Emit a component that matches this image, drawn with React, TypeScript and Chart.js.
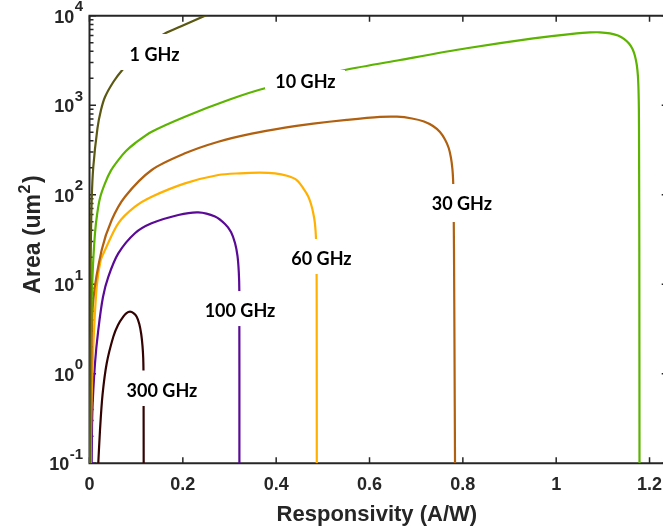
import { useEffect, useRef } from "react";
import { Chart, registerables } from "chart.js";

Chart.register(...registerables);

// ---------- data (Responsivity A/W vs Area um^2) ----------
const seriesNames = ["1 GHz", "10 GHz", "30 GHz", "60 GHz", "100 GHz", "300 GHz"];

const resp1GHz = [0.0005, 0.001, 0.0025, 0.0047, 0.0081, 0.0171, 0.0246, 0.0332, 0.051, 0.069, 0.1153, 0.1618, 0.1939, 0.2475, 0.2689];
const area1GHz = [0.1, 1, 20, 87, 204, 556, 883, 1236, 1816, 2432, 4436, 6353, 7535, 10000, 11287];

const resp10GHz = [0.0011, 0.0017, 0.0028, 0.0047, 0.0075, 0.0118, 0.0161, 0.0225, 0.0332, 0.0461, 0.0617, 0.0782, 0.0975, 0.1333, 0.2046, 0.2974, 0.376, 0.5475, 0.6653, 0.8082, 0.9509, 1.0439, 1.0724, 1.0938, 1.1152, 1.1324, 1.1452, 1.156, 1.1635, 1.1688, 1.1727, 1.1751, 1.1764, 1.1772, 1.1776, 1.1781, 1.1785];
const area10GHz = [0.1, 0.305, 1.85, 6.65, 16.4, 37.3, 59.4, 92, 134, 187, 244, 308, 376, 506, 745, 1143, 1545, 2474, 3200, 4325, 5592, 6359, 6507, 6525, 6359, 6009, 5521, 4892, 4246, 3546, 2814, 2121, 1479, 884, 316, 24.1, 0.1];

const resp30GHz = [0.0017, 0.0041, 0.0081, 0.0261, 0.0476, 0.0761, 0.1333, 0.2046, 0.276, 0.3476, 0.4189, 0.4795, 0.5511, 0.6224, 0.6589, 0.691, 0.7167, 0.736, 0.751, 0.7617, 0.7697, 0.7746, 0.7776, 0.7791, 0.7799, 0.781, 0.7821, 0.7832];
const area30GHz = [0.1, 1.5, 6.65, 24.1, 52.2, 95, 189, 290, 391, 481, 561, 622, 685, 740, 744, 711, 658, 586, 502, 414, 333, 257, 194, 146, 99.3, 24.1, 1.84, 0.1];

const resp60GHz = [0.0026, 0.004, 0.0081, 0.0154, 0.0236, 0.0332, 0.0617, 0.0975, 0.1333, 0.2046, 0.276, 0.3225, 0.3653, 0.3975, 0.4232, 0.444, 0.4581, 0.4682, 0.4746, 0.4795, 0.4832, 0.4853, 0.4864, 0.4868, 0.487];
const area60GHz = [0.1, 0.4, 2.0, 9.4, 18.2, 24.1, 48, 73.5, 95, 134, 166, 173.6, 176.3, 173.2, 162.8, 146, 118, 96.8, 78.8, 62, 47.1, 32.6, 18.7, 6.65, 0.1];

const resp100GHz = [0.0047, 0.006, 0.0118, 0.0188, 0.0289, 0.0403, 0.0617, 0.0974, 0.133, 0.1903, 0.2331, 0.2689, 0.2903, 0.3032, 0.3118, 0.3171, 0.3199, 0.321, 0.3212];
const area100GHz = [0.1, 0.36, 1.31, 3.08, 7.2, 12.1, 22.1, 37.1, 47.9, 59.4, 63.5, 57.1, 47.1, 38.4, 28.9, 20.7, 13.7, 8.6, 0.1];

const resp300GHz = [0.0188, 0.0225, 0.0279, 0.0369, 0.051, 0.0611, 0.0724, 0.0793, 0.0868, 0.0943, 0.1011, 0.1067, 0.1108, 0.1136, 0.1151, 0.1157, 0.1159, 0.1161];
const area300GHz = [0.1, 0.235, 0.58, 1.31, 2.59, 3.51, 4.34, 4.76, 4.94, 4.76, 4.34, 3.6, 2.78, 2.04, 1.5, 1.05, 0.506, 0.1];

const seriesResp = [resp1GHz, resp10GHz, resp30GHz, resp60GHz, resp100GHz, resp300GHz];
const seriesArea = [area1GHz, area10GHz, area30GHz, area60GHz, area100GHz, area300GHz];
const seriesColors = ["#5a5812", "#5cb300", "#b0600f", "#ffb000", "#5a0a96", "#330303"];

// tick labels
const xTickValues = [0, 0.2, 0.4, 0.6, 0.8, 1, 1.2];
const xTickLabels = ["0", "0.2", "0.4", "0.6", "0.8", "1", "1.2"];
const yTickExponents = ["-1", "0", "1", "2", "3", "4"];

// in-plot curve labels (anchor in data coordinates)
const curveLabelResp = [0.1393, 0.4628, 0.798, 0.497, 0.3225, 0.1553];
const curveLabelArea = [3733, 1841, 79.8, 19.5, 5.15, 0.659];

const xAxisTitle = "Responsivity (A/W)";
const yAxisTitleMain = "Area (um";
const yAxisTitleSup = "2";
const yAxisTitleEnd = ")";

// ---------- styles ----------
const AXIS_COLOR = "#262626";
const TICK_FONT = '"Liberation Sans", Arial, Helvetica, sans-serif';
const LABEL_FONT = 'Lato, "Open Sans", sans-serif';
// white background pad around each curve label: [left, right, top, bottom] px from text centre
const labelPads = [
  [33.5, 27.5, 20, 16],
  [40.5, 39.5, 11.5, 7.5],
  [34, 35, 19.5, 18.5],
  [32.5, 32.5, 19.3, 15.7],
  [37, 37, 19, 16],
  [37, 37, 19.5, 16],
];

const CANVAS_W = 680;
const CANVAS_H = 527;

const axesPlugin = {
  id: "matlabAxes",
  beforeDatasetsDraw(chart: any) {
    const { ctx, chartArea: ca } = chart;
    const xs = chart.scales.x;
    const ys = chart.scales.y;
    ctx.save();
    ctx.strokeStyle = AXIS_COLOR;
    ctx.lineWidth = 2;
    ctx.beginPath();
    ctx.moveTo(ca.left, ca.top);
    ctx.lineTo(ca.left, ca.bottom);
    ctx.lineTo(ca.right, ca.bottom);
    ctx.lineTo(ca.right, ca.top);
    ctx.closePath();
    ctx.stroke();

    ctx.lineWidth = 1.5;
    ctx.beginPath();
    for (const v of xTickValues) {
      const px = xs.getPixelForValue(v);
      ctx.moveTo(px, ca.bottom);
      ctx.lineTo(px, ca.bottom - 6);
      ctx.moveTo(px, ca.top);
      ctx.lineTo(px, ca.top + 6);
    }
    for (let e = -1; e <= 4; e++) {
      for (let m = 1; m <= 9; m++) {
        const v = m * Math.pow(10, e);
        if (v > 10000 * 1.0001) break;
        const py = ys.getPixelForValue(v);
        const len = m === 1 ? 6.5 : 4;
        ctx.moveTo(ca.left, py);
        ctx.lineTo(ca.left + len, py);
        ctx.moveTo(ca.right, py);
        ctx.lineTo(ca.right - len, py);
      }
    }
    ctx.stroke();
    ctx.restore();
  },
  afterDraw(chart: any) {
    const { ctx, chartArea: ca } = chart;
    const ys = chart.scales.y;
    ctx.save();
    ctx.fillStyle = AXIS_COLOR;
    ctx.textBaseline = "middle";
    ctx.textAlign = "left";
    const rightEdge = ca.left - 6.5;
    for (const e of yTickExponents) {
      const py = ys.getPixelForValue(Math.pow(10, Number(e)));
      ctx.font = `bold 15px ${TICK_FONT}`;
      const ew = ctx.measureText(e).width;
      ctx.fillText(e, rightEdge - ew, py - 8.5);
      ctx.font = `bold 18px ${TICK_FONT}`;
      const bw = ctx.measureText("10").width;
      ctx.fillText("10", rightEdge - ew - bw - 0.5, py + 2);
    }

    // x-axis title
    ctx.font = `bold 22px ${TICK_FONT}`;
    ctx.textAlign = "center";
    ctx.textBaseline = "alphabetic";
    ctx.fillText(xAxisTitle, (ca.left + ca.right) / 2 - 2, 520.5);

    // y-axis title, rotated, with superscript
    ctx.save();
    ctx.translate(40, (ca.top + ca.bottom) / 2 - 5);
    ctx.rotate(-Math.PI / 2);
    ctx.textAlign = "left";
    ctx.font = `bold 23px ${TICK_FONT}`;
    const w1 = ctx.measureText(yAxisTitleMain).width;
    const w3 = ctx.measureText(yAxisTitleEnd).width;
    ctx.font = `bold 16px ${TICK_FONT}`;
    const w2 = ctx.measureText(yAxisTitleSup).width;
    const total = w1 + w2 + w3 + 2;
    let u = -total / 2;
    ctx.font = `bold 23px ${TICK_FONT}`;
    ctx.fillText(yAxisTitleMain, u, 0);
    u += w1 + 0.5;
    ctx.font = `bold 16px ${TICK_FONT}`;
    ctx.fillText(yAxisTitleSup, u, -10);
    u += w2 + 1.5;
    ctx.font = `bold 23px ${TICK_FONT}`;
    ctx.fillText(yAxisTitleEnd, u, 0);
    ctx.restore();
    ctx.restore();
  },
};

const labelPlugin = {
  id: "curveLabels",
  afterDatasetsDraw(chart: any) {
    const { ctx } = chart;
    const xs = chart.scales.x;
    const ys = chart.scales.y;
    ctx.save();
    ctx.font = `bold 18px ${LABEL_FONT}`;
    ctx.textAlign = "center";
    ctx.textBaseline = "middle";
    seriesNames.forEach((name, i) => {
      const px = xs.getPixelForValue(curveLabelResp[i]);
      const py = ys.getPixelForValue(curveLabelArea[i]);
      const [l, r, t, b] = labelPads[i];
      ctx.fillStyle = "#ffffff";
      ctx.fillRect(px - l, py - t, l + r, t + b);
      ctx.fillStyle = "#000000";
      ctx.fillText(name, px, py + 1);
    });
    ctx.restore();
  },
};

export default function App() {
  const canvasRef = useRef<HTMLCanvasElement | null>(null);

  useEffect(() => {
    const canvas = canvasRef.current;
    if (!canvas) return;
    const datasets = seriesNames.map((name, i) => ({
      label: name,
      data: seriesResp[i].map((x, j) => ({ x, y: seriesArea[i][j] })),
      borderColor: seriesColors[i],
      backgroundColor: seriesColors[i],
      borderWidth: 2.2,
      pointRadius: 0,
      fill: false,
      tension: 0.3,
      cubicInterpolationMode: "default" as const,
    }));
    const chart = new Chart(canvas, {
      type: "line",
      data: { datasets },
      options: {
        animation: false,
        responsive: false,
        devicePixelRatio: 1,
        layout: { padding: { top: 15.7, right: CANVAS_W - 668.2, left: 0, bottom: 0 } },
        plugins: { legend: { display: false }, tooltip: { enabled: false } },
        scales: {
          x: {
            type: "linear",
            min: 0,
            max: 1.24,
            afterFit: (s: any) => {
              s.height = CANVAS_H - 463.3;
            },
            grid: { display: false, drawTicks: false },
            border: { display: false },
            ticks: {
              stepSize: 0.2,
              includeBounds: false,
              autoSkip: false,
              maxRotation: 0,
              padding: 11,
              color: AXIS_COLOR,
              font: { family: TICK_FONT, size: 18, weight: "bold" },
              callback: (value: any) => {
                const idx = xTickValues.findIndex((t) => Math.abs(t - Number(value)) < 1e-6);
                return idx >= 0 ? xTickLabels[idx] : "";
              },
            },
          },
          y: {
            type: "logarithmic",
            min: 0.1,
            max: 10000,
            afterFit: (s: any) => {
              s.width = 89.5;
            },
            grid: { display: false, drawTicks: false },
            border: { display: false },
            ticks: { display: false },
          },
        },
      } as any,
      plugins: [axesPlugin, labelPlugin],
    });
    return () => chart.destroy();
  }, []);

  return (
    <div
      style={{
        position: "absolute",
        left: 0,
        top: 0,
        width: 663,
        height: 527,
        overflow: "hidden",
        background: "#ffffff",
      }}
    >
      <canvas ref={canvasRef} width={CANVAS_W} height={CANVAS_H} style={{ display: "block" }} />
    </div>
  );
}
